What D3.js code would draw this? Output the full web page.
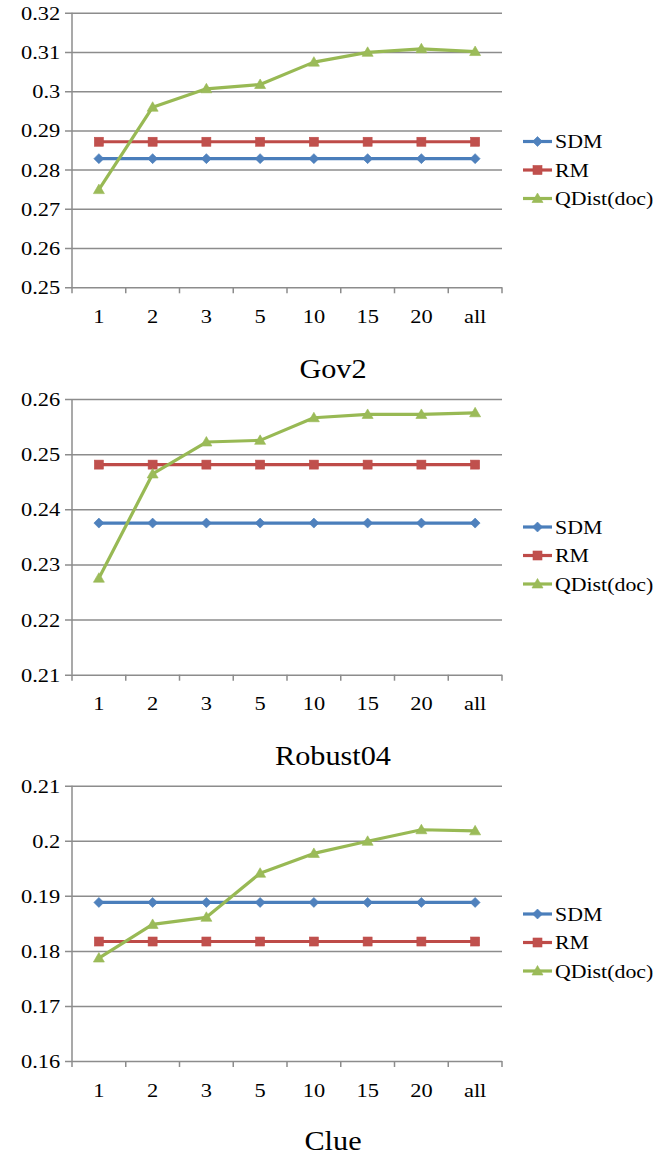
<!DOCTYPE html>
<html>
  <head>
    <meta charset="utf-8">
    <title>SDM / RM / QDist(doc)</title>
    <script src="https://d3js.org/d3.v7.min.js"></script>
    <style>
      body { margin: 0; background: #fff; }
      svg text { font-family: "Liberation Serif", "Times New Roman", serif !important; fill: #000; }
    </style>
  </head>
  <body>
    <svg></svg>
    <script>
      // Data values
      var categories = ["1", "2", "3", "5", "10", "15", "20", "all"];
      var seriesNames = ["SDM", "RM", "QDist(doc)"];

      var gov2Sdm   = [0.2828, 0.2828, 0.2828, 0.2828, 0.2828, 0.2828, 0.2828, 0.2828];
      var gov2Rm    = [0.2871, 0.2871, 0.2871, 0.2871, 0.2871, 0.2871, 0.2871, 0.2871];
      var gov2Qdist = [0.2749, 0.2959, 0.3006, 0.3017, 0.3074, 0.3099, 0.3108, 0.3101];

      var robSdm    = [0.2375, 0.2375, 0.2375, 0.2375, 0.2375, 0.2375, 0.2375, 0.2375];
      var robRm     = [0.2481, 0.2481, 0.2481, 0.2481, 0.2481, 0.2481, 0.2481, 0.2481];
      var robQdist  = [0.2275, 0.2464, 0.2522, 0.2525, 0.2566, 0.2572, 0.2572, 0.2575];

      var clueSdm   = [0.1888, 0.1888, 0.1888, 0.1888, 0.1888, 0.1888, 0.1888, 0.1888];
      var clueRm    = [0.1817, 0.1817, 0.1817, 0.1817, 0.1817, 0.1817, 0.1817, 0.1817];
      var clueQdist = [0.1787, 0.1848, 0.1861, 0.1941, 0.1977, 0.1999, 0.2020, 0.2018];

      var gov2Ticks = [0.25, 0.26, 0.27, 0.28, 0.29, 0.30, 0.31, 0.32];
      var robTicks  = [0.21, 0.22, 0.23, 0.24, 0.25, 0.26];
      var clueTicks = [0.16, 0.17, 0.18, 0.19, 0.20, 0.21];

      var colors = ["#4a7ebb", "#be4b48", "#98b954"];
      var markerFill = ["#4f81bd", "#c0504d", "#9bbb59"];
      var gridColor = "#8c8c8c";
      var serif = "'Liberation Serif', 'Times New Roman', serif";
      var stretch = 1.18;

      var svg = d3.select("svg")
        .attr("width", 657)
        .attr("height", 1158);

      // one panel per collection
      var panels = [
        { title: "Gov2", top: 12.7, bottom: 287.3, titleY: 378, ticks: gov2Ticks,
          series: [gov2Sdm, gov2Rm, gov2Qdist], legendY: 141.5 },
        { title: "Robust04", top: 399, bottom: 674.7, titleY: 765, ticks: robTicks,
          series: [robSdm, robRm, robQdist], legendY: 527 },
        { title: "Clue", top: 785.7, bottom: 1061, titleY: 1150, ticks: clueTicks,
          series: [clueSdm, clueRm, clueQdist], legendY: 914 }
      ];

      var x = d3.scaleBand()
        .domain(categories)
        .range([72, 502]);

      function marker(g, i, cx, cy) {
        if (i === 0) {
          g.append("path")
            .attr("d", "M" + cx + "," + (cy - 5) + "L" + (cx + 5) + "," + cy +
                       "L" + cx + "," + (cy + 5) + "L" + (cx - 5) + "," + cy + "Z")
            .attr("fill", markerFill[i]).attr("stroke", colors[i]).attr("stroke-width", 0.6);
        } else if (i === 1) {
          g.append("rect")
            .attr("x", cx - 4.5).attr("y", cy - 4.5)
            .attr("width", 9).attr("height", 9)
            .attr("fill", markerFill[i]).attr("stroke", colors[i]).attr("stroke-width", 0.6);
        } else {
          g.append("path")
            .attr("d", "M" + cx + "," + (cy - 5.5) + "L" + (cx + 5.5) + "," + (cy + 4) +
                       "L" + (cx - 5.5) + "," + (cy + 4) + "Z")
            .attr("fill", markerFill[i]).attr("stroke", colors[i]).attr("stroke-width", 0.6);
        }
      }

      panels.forEach(function(p) {
        var y = d3.scaleLinear()
          .domain(d3.extent(p.ticks))
          .range([p.bottom, p.top]);

        var g = svg.append("g");

        // gridlines + y labels
        var yAxis = d3.axisLeft(y)
          .tickValues(p.ticks)
          .tickSize(-(502 - 72))
          .tickPadding(10)
          .tickFormat(function(d) { return +d.toFixed(2) + ""; });

        var ya = g.append("g")
          .attr("transform", "translate(72,0)")
          .call(yAxis)
          .attr("font-family", serif);
        ya.select(".domain").remove();
        ya.selectAll("line")
          .attr("x1", -7)
          .attr("stroke", gridColor)
          .attr("stroke-width", 1.5);
        ya.selectAll("text")
          .style("font-family", serif)
          .style("font-size", "19px")
          .attr("dy", "0.34em")
          .attr("transform", "scale(" + stretch + ",1)");

        // left axis line
        g.append("line")
          .attr("x1", 72).attr("x2", 72)
          .attr("y1", p.top).attr("y2", p.bottom)
          .attr("stroke", gridColor).attr("stroke-width", 1.5);

        // bottom axis with ticks between categories
        var bounds = categories.map(function(c) { return x(c); }).concat([x.range()[1]]);
        g.selectAll(".xtick")
          .data(bounds)
          .enter().append("line")
            .attr("x1", function(d) { return d; })
            .attr("x2", function(d) { return d; })
            .attr("y1", p.bottom)
            .attr("y2", p.bottom + 6)
            .attr("stroke", gridColor).attr("stroke-width", 1.5);

        g.selectAll(".xlab")
          .data(categories)
          .enter().append("text")
            .attr("transform", function(d) {
              return "translate(" + (x(d) + x.bandwidth() / 2) + "," + (p.bottom + 35.5) + ") scale(" + stretch + ",1)";
            })
            .attr("text-anchor", "middle")
            .style("font-family", serif)
            .style("font-size", "19px")
            .text(function(d) { return d; });

        // lines and markers
        var line = d3.line()
          .x(function(d, i) { return x(categories[i]) + x.bandwidth() / 2; })
          .y(function(d) { return y(d); });

        p.series.forEach(function(vals, si) {
          g.append("path")
            .datum(vals)
            .attr("d", line)
            .attr("fill", "none")
            .attr("stroke", colors[si])
            .attr("stroke-width", 3.2)
            .attr("stroke-linejoin", "round");
          var mg = g.append("g");
          vals.forEach(function(v, i) {
            marker(mg, si, x(categories[i]) + x.bandwidth() / 2, y(v));
          });
        });

        // legend
        seriesNames.forEach(function(name, si) {
          var ly = p.legendY + si * 28.5;
          g.append("line")
            .attr("x1", 523).attr("x2", 552)
            .attr("y1", ly).attr("y2", ly)
            .attr("stroke", colors[si]).attr("stroke-width", 3.2);
          marker(g, si, 537.5, ly);
          g.append("text")
            .attr("transform", "translate(555," + (ly + 6.5) + ") scale(1.15,1)")
            .style("font-family", serif)
            .style("font-size", "19px")
            .text(name);
        });

        // panel title
        g.append("text")
          .attr("transform", "translate(333," + p.titleY + ") scale(1.08,1)")
          .attr("text-anchor", "middle")
          .style("font-family", serif)
          .style("font-size", "28px")
          .text(p.title);
      });
    </script>
  </body>
</html>
